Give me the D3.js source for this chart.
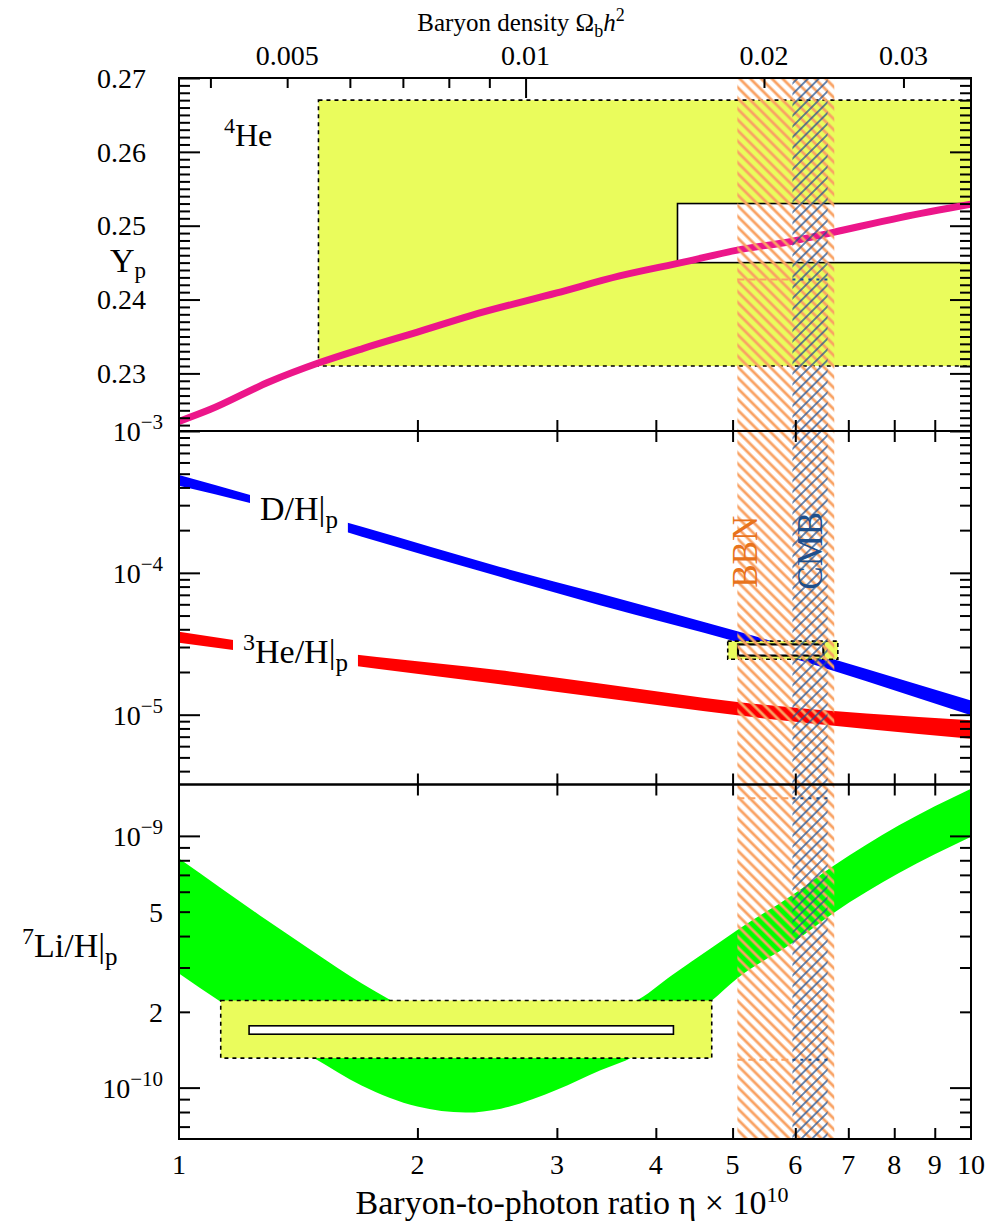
<!DOCTYPE html>
<html>
<head>
<meta charset="utf-8">
<script src="https://cdn.jsdelivr.net/npm/d3@7"></script>
<style>
  html, body { margin: 0; padding: 0; background: #fff; }
  svg { display: block; font-family: "Liberation Serif", "Times New Roman", serif; }
</style>
</head>
<body>
<svg id="chart" width="991" height="1228"></svg>
<script>
// eta10 = baryon-to-photon ratio x 10^10, Omega_b h^2 = eta10 / 273.9
var etaTicks = [2, 3, 4, 5, 6, 7, 8, 9];
var etaLabels = [1, 2, 3, 4, 5, 6, 7, 8, 9, 10];
var omegaMinor = [0.004, 0.005, 0.006, 0.007, 0.008, 0.009, 0.02, 0.03];
var omegaMajor = [0.01];
var omegaLabels = ['0.005', '0.01', '0.02', '0.03'];

var heMajor = [0.23, 0.24, 0.25, 0.26, 0.27];
var heLabels = ['0.23', '0.24', '0.25', '0.26', '0.27'];
var dhMajor = [1e-5, 1e-4, 1e-3];
var dhExp = ['\u22125', '\u22124', '\u22123'];
var liMajor = [1e-10, 2e-10, 5e-10, 1e-9];
var liBase = ['10', '2', '5', '10'];
var liExp = ['\u221210', '', '', '\u22129'];

// 4He mass fraction curve
var heEta = [1, 1.094, 1.303, 1.499, 1.71, 2.0, 2.33, 3.0, 3.6, 4.35, 5.07, 5.95, 6.7, 8.14, 10];
var heYp = [0.2235, 0.2251, 0.2289, 0.2314, 0.2334, 0.2356, 0.2378, 0.2409, 0.2432, 0.2451, 0.2467, 0.2479, 0.2491, 0.2511, 0.2529];
var heObsEta = [1.5, 12];
var heObsYp = [0.231, 0.267];
var heBestEta = [4.26, 12];
var heBestYp = [0.245, 0.253];

// D/H band
var dhEta = [1, 1.233, 1.702, 2.543, 3.40, 5.07, 10];
var dhHigh = [4.89e-4, 3.53e-4, 2.11e-4, 1.10e-4, 7.16e-5, 3.88e-5, 1.26e-5];
var dhLow = [4.11e-4, 3.09e-4, 1.80e-4, 9.37e-5, 5.92e-5, 3.26e-5, 9.9e-6];
var dhObsEta = [4.93, 6.79];
var dhObsVal = [2.46e-5, 3.30e-5];
var dhBestEta = [5.08, 6.51];
var dhBestVal = [2.61e-5, 3.13e-5];

// 3He/H band
var he3Eta = [1, 1.177, 1.778, 2.543, 3.40, 5.07, 10];
var he3High = [3.84e-5, 3.35e-5, 2.55e-5, 2.06e-5, 1.66e-5, 1.23e-5, 9.14e-6];
var he3Low = [3.21e-5, 2.85e-5, 2.11e-5, 1.64e-5, 1.32e-5, 9.9e-6, 6.78e-6];

// 7Li/H band
var liEta = [1, 1.13, 1.29, 1.48, 1.7, 2.0, 2.3, 2.55, 3.0, 3.4, 3.75, 4.2, 4.7, 5.07, 5.95, 6.7, 8.1, 10];
var liHigh = [8.13e-10, 6.2e-10, 4.63e-10, 3.46e-10, 2.60e-10, 1.97e-10, 1.70e-10, 1.65e-10, 1.80e-10, 2.03e-10, 2.19e-10, 2.81e-10, 3.59e-10, 4.23e-10, 5.82e-10, 7.59e-10, 1.10e-9, 1.54e-9];
var liLow = [2.84e-10, 2.19e-10, 1.69e-10, 1.31e-10, 1.02e-10, 8.41e-11, 7.96e-11, 8.25e-11, 9.8e-11, 1.17e-10, 1.33e-10, 1.72e-10, 2.21e-10, 2.72e-10, 3.75e-10, 4.93e-10, 7.1e-10, 9.91e-10];
var liObsEta = [1.129, 4.706];
var liObsVal = [1.31e-10, 2.22e-10];
var liBestEta = [1.226, 4.21];
var liBestVal = [1.63e-10, 1.76e-10];

// concordance bands
var bbnEta = [5.07, 6.72];
var cmbEta = [5.95, 6.59];
var bandMarkHe = [0.2427];
var bandMarkLi = [1.41e-9, 1.29e-10];

var plotLeft = 179, plotRight = 971;
var panelTop = [78, 431, 784.5];
var panelBottom = [431, 784.5, 1139];

var svg = d3.select('#chart');
svg.append('rect').attr('width', 991).attr('height', 1228).attr('fill', '#fff');

var x = d3.scaleLog().domain([1, 10]).range([plotLeft, plotRight]);
var xOmega = d3.scaleLog().domain([1 / 273.9, 10 / 273.9]).range([plotLeft, plotRight]);
var yHe = d3.scaleLinear().domain([0.2222, 0.27]).range([panelBottom[0], panelTop[0]]);
var yDH = d3.scaleLog().domain([3.22e-6, 1e-3]).range([panelBottom[1], panelTop[1]]);
var yLi = d3.scaleLog().domain([6.25e-11, 1.6e-9]).range([panelBottom[2], panelTop[2]]);

var defs = svg.append('defs');
panelTop.forEach(function (t, i) {
    defs.append('clipPath').attr('id', 'clip' + i)
        .append('rect')
        .attr('x', plotLeft).attr('y', t)
        .attr('width', plotRight - plotLeft).attr('height', panelBottom[i] - t);
});
defs.append('clipPath').attr('id', 'clipAll')
    .append('rect')
    .attr('x', plotLeft).attr('y', panelTop[0])
    .attr('width', plotRight - plotLeft).attr('height', panelBottom[2] - panelTop[0]);

function hatch(id, color, width, angle, gap) {
    var p = defs.append('pattern')
        .attr('id', id)
        .attr('patternUnits', 'userSpaceOnUse')
        .attr('width', gap).attr('height', gap)
        .attr('patternTransform', 'rotate(' + angle + ')');
    p.append('line')
        .attr('x1', gap / 2).attr('y1', -1)
        .attr('x2', gap / 2).attr('y2', gap + 1)
        .attr('stroke', color).attr('stroke-width', width);
}
hatch('bbnHatch', '#f9a263', 2.8, -45, 7.6);
hatch('cmbHatch', '#1d4f91', 1.3, 45, 7.6);

function box(g, xs, ys, yScale, fill, stroke, sw, dash) {
    g.append('rect')
        .attr('x', x(xs[0]))
        .attr('y', yScale(ys[1]))
        .attr('width', x(xs[1]) - x(xs[0]))
        .attr('height', yScale(ys[0]) - yScale(ys[1]))
        .attr('fill', fill)
        .attr('stroke', stroke)
        .attr('stroke-width', sw)
        .attr('stroke-dasharray', dash || null);
}

/* Top panel: 4He */
var gHe = svg.append('g').attr('clip-path', 'url(#clip0)');
box(gHe, heObsEta, heObsYp, yHe, '#eafc5c', '#000', 1.6, '4,4');
box(gHe, heBestEta, heBestYp, yHe, '#fff', '#000', 1.6);
gHe.append('path')
    .datum(d3.zip(heEta, heYp))
    .attr('fill', 'none')
    .attr('stroke', '#ec168a')
    .attr('stroke-width', 7)
    .attr('d', d3.line()
        .x(function (d) { return x(d[0]); })
        .y(function (d) { return yHe(d[1]); })
        .curve(d3.curveMonotoneX));

/* Middle panel: D/H and 3He/H */
var gMid = svg.append('g').attr('clip-path', 'url(#clip1)');
function band(g, eta, hi, lo, yScale, color) {
    g.append('path')
        .datum(d3.zip(eta, hi, lo))
        .attr('fill', color)
        .attr('d', d3.area()
            .x(function (d) { return x(d[0]); })
            .y0(function (d) { return yScale(d[2]); })
            .y1(function (d) { return yScale(d[1]); })
            .curve(d3.curveMonotoneX));
}
band(gMid, dhEta, dhHigh, dhLow, yDH, '#0000ff');
band(gMid, he3Eta, he3High, he3Low, yDH, '#ff0000');

/* Bottom panel: 7Li/H */
var gLi = svg.append('g').attr('clip-path', 'url(#clip2)');
band(gLi, liEta, liHigh, liLow, yLi, '#00ff00');
box(gLi, liObsEta, liObsVal, yLi, '#eafc5c', '#000', 1.6, '4,4');
box(gLi, liBestEta, liBestVal, yLi, '#fff', '#000', 1.6);

/* Hatched BBN / CMB bands over all panels */
var gBands = svg.append('g').attr('clip-path', 'url(#clipAll)');
gBands.append('rect')
    .attr('x', x(bbnEta[0])).attr('y', panelTop[0])
    .attr('width', x(bbnEta[1]) - x(bbnEta[0]))
    .attr('height', panelBottom[2] - panelTop[0])
    .attr('fill', 'url(#bbnHatch)');
gBands.append('rect')
    .attr('x', x(cmbEta[0])).attr('y', panelTop[0])
    .attr('width', x(cmbEta[1]) - x(cmbEta[0]))
    .attr('height', panelBottom[2] - panelTop[0])
    .attr('fill', 'url(#cmbHatch)');

function bandMarks(vals, yScale) {
    vals.forEach(function (v) {
        gBands.append('line')
            .attr('x1', x(bbnEta[0])).attr('x2', x(cmbEta[0]))
            .attr('y1', yScale(v)).attr('y2', yScale(v))
            .attr('stroke', '#f9a263').attr('stroke-width', 2)
            .attr('stroke-dasharray', '7,4');
        gBands.append('line')
            .attr('x1', x(cmbEta[0])).attr('x2', x(cmbEta[1]))
            .attr('y1', yScale(v)).attr('y2', yScale(v))
            .attr('stroke', '#1d4f91').attr('stroke-width', 2)
            .attr('stroke-dasharray', '3,5');
    });
}
bandMarks(bandMarkHe, yHe);
bandMarks(bandMarkLi, yLi);

// D/H observation box sits over the hatching
box(gMid, dhObsEta, dhObsVal, yDH, '#eafc5c', '#000', 1.6, '4,3');
box(gMid, dhBestEta, dhBestVal, yDH, '#fff', '#000', 2.2);

/* Labels with white backing */
function backedText(g, build, padX, padY) {
    var t = build(g.append('text'));
    var b = t.node().getBBox();
    g.insert('rect', 'text')
        .attr('x', b.x - padX).attr('y', b.y - padY)
        .attr('width', b.width + 2 * padX).attr('height', b.height + 2 * padY)
        .attr('fill', '#fff');
    return t;
}

var gLab = svg.append('g');
backedText(gLab.append('g'), function (t) {
    t.attr('x', 260).attr('y', 520).attr('font-size', 34);
    t.append('tspan').text('D/H|');
    t.append('tspan').attr('dy', 8).attr('font-size', 25).text('p');
    return t;
}, 10, 2);
backedText(gLab.append('g'), function (t) {
    t.attr('x', 243).attr('y', 663).attr('font-size', 34);
    t.append('tspan').attr('dy', -13).attr('font-size', 24).text('3');
    t.append('tspan').attr('dy', 13).text('He/H|');
    t.append('tspan').attr('dy', 8).attr('font-size', 25).text('p');
    return t;
}, 10, 2);

var midBand = (panelTop[1] + panelBottom[1]) / 2;
backedText(gLab.append('g'), function (t) {
    t.attr('transform', 'translate(' + (x(bbnEta[0]) + 20) + ',' + (midBand - 56) + ') rotate(-90)')
        .attr('text-anchor', 'middle').attr('font-size', 35).attr('fill', '#e8731c')
        .text('BBN');
    return t;
}, 0, 1);
backedText(gLab.append('g'), function (t) {
    t.attr('transform', 'translate(' + (x(cmbEta[1]) - 6) + ',' + (midBand - 57) + ') rotate(-90)')
        .attr('text-anchor', 'middle').attr('font-size', 35).attr('fill', '#1e4f8c')
        .text('CMB');
    return t;
}, 0, 1);

var he4 = gLab.append('text').attr('x', 224).attr('y', 146).attr('font-size', 32);
he4.append('tspan').attr('dy', -13).attr('font-size', 22).text('4');
he4.append('tspan').attr('dy', 13).text('He');

/* Frames and ticks */
function styleAxis(g) {
    g.select('.domain').remove();
    g.selectAll('.tick line').attr('stroke', '#000').attr('stroke-width', 2);
}
function frame(i, yScale, yMajor, yMinor) {
    var g = svg.append('g');
    var t = panelTop[i], b = panelBottom[i];
    g.append('g').attr('transform', 'translate(0,' + b + ')')
        .call(d3.axisBottom(x).tickValues(etaTicks).tickSize(-11).tickSizeOuter(0).tickFormat(''))
        .call(styleAxis);
    if (i > 0) {
        g.append('g').attr('transform', 'translate(0,' + t + ')')
            .call(d3.axisTop(x).tickValues(etaTicks).tickSize(-11).tickSizeOuter(0).tickFormat(''))
            .call(styleAxis);
    }
    [[d3.axisLeft, plotLeft], [d3.axisRight, plotRight]].forEach(function (a) {
        g.append('g').attr('transform', 'translate(' + a[1] + ',0)')
            .call(a[0](yScale).tickValues(yMajor).tickSize(-21).tickSizeOuter(0).tickFormat(''))
            .call(styleAxis);
        g.append('g').attr('transform', 'translate(' + a[1] + ',0)')
            .call(a[0](yScale).tickValues(yMinor).tickSize(-11).tickSizeOuter(0).tickFormat(''))
            .call(styleAxis);
    });
    g.append('rect')
        .attr('x', plotLeft).attr('y', t)
        .attr('width', plotRight - plotLeft).attr('height', b - t)
        .attr('fill', 'none').attr('stroke', '#000').attr('stroke-width', 2);
}

var heMinor = d3.range(223, 270).map(function (k) { return k / 1000; })
    .filter(function (v) { return Math.round(v * 1000) % 10 !== 0; });
var dhMinor = [], liMinor = [];
[1e-6, 1e-5, 1e-4].forEach(function (dec) {
    d3.range(2, 10).forEach(function (m) {
        if (m * dec >= 3.22e-6) dhMinor.push(m * dec);
    });
});
[7e-11, 8e-11, 9e-11].forEach(function (v) { liMinor.push(v); });
d3.range(2, 10).forEach(function (m) { liMinor.push(m * 1e-10); });

frame(0, yHe, heMajor, heMinor);
frame(1, yDH, dhMajor, dhMinor);
frame(2, yLi, [1e-10, 1e-9], liMinor);

// Omega_b h^2 axis on top
var gTop = svg.append('g').attr('transform', 'translate(0,' + panelTop[0] + ')');
gTop.append('g')
    .call(d3.axisTop(xOmega).tickValues(omegaMinor).tickSize(-10).tickSizeOuter(0).tickFormat(''))
    .call(styleAxis);
gTop.append('g')
    .call(d3.axisTop(xOmega).tickValues(omegaMajor).tickSize(-20).tickSizeOuter(0).tickFormat(''))
    .call(styleAxis);

/* Tick labels */
var gTxt = svg.append('g').attr('font-size', 28).attr('fill', '#000');
omegaLabels.forEach(function (s) {
    gTxt.append('text').attr('x', xOmega(+s)).attr('y', 65)
        .attr('text-anchor', 'middle').text(s);
});
etaLabels.forEach(function (v) {
    gTxt.append('text').attr('x', x(v)).attr('y', 1174)
        .attr('text-anchor', 'middle').text(v);
});
heMajor.forEach(function (v, k) {
    gTxt.append('text').attr('x', 146).attr('y', yHe(v)).attr('dy', '0.35em')
        .attr('text-anchor', 'end').text(heLabels[k]);
});
function powLabel(v, yScale, base, exp) {
    var t = gTxt.append('text').attr('x', 163).attr('y', yScale(v) + 10)
        .attr('text-anchor', 'end');
    t.append('tspan').text(base);
    if (exp) t.append('tspan').attr('dy', -12).attr('font-size', 21).text(exp);
}
dhMajor.forEach(function (v, k) { powLabel(v, yDH, '10', dhExp[k]); });
liMajor.forEach(function (v, k) { powLabel(v, yLi, liBase[k], liExp[k]); });

/* Axis titles */
var topTitle = svg.append('text').attr('x', 521).attr('y', 31)
    .attr('text-anchor', 'middle').attr('font-size', 25);
topTitle.append('tspan').text('Baryon density \u03A9');
topTitle.append('tspan').attr('dy', 6).attr('font-size', 18).text('b');
topTitle.append('tspan').attr('dy', -6).attr('font-style', 'italic').text('h');
topTitle.append('tspan').attr('dy', -10).attr('font-size', 18).text('2');

var botTitle = svg.append('text').attr('x', 572).attr('y', 1214)
    .attr('text-anchor', 'middle').attr('font-size', 34);
botTitle.append('tspan').text('Baryon-to-photon ratio \u03B7 \u00D7 10');
botTitle.append('tspan').attr('dy', -12).attr('font-size', 22).text('10');

var ypTitle = svg.append('text').attr('x', 110).attr('y', 272).attr('font-size', 34);
ypTitle.append('tspan').text('Y');
ypTitle.append('tspan').attr('dy', 6).attr('font-size', 23).text('p');

var liTitle = svg.append('text').attr('x', 22).attr('y', 957).attr('font-size', 34);
liTitle.append('tspan').attr('dy', -13).attr('font-size', 24).text('7');
liTitle.append('tspan').attr('dy', 13).text('Li/H|');
liTitle.append('tspan').attr('dy', 8).attr('font-size', 25).text('p');
</script>
</body>
</html>
